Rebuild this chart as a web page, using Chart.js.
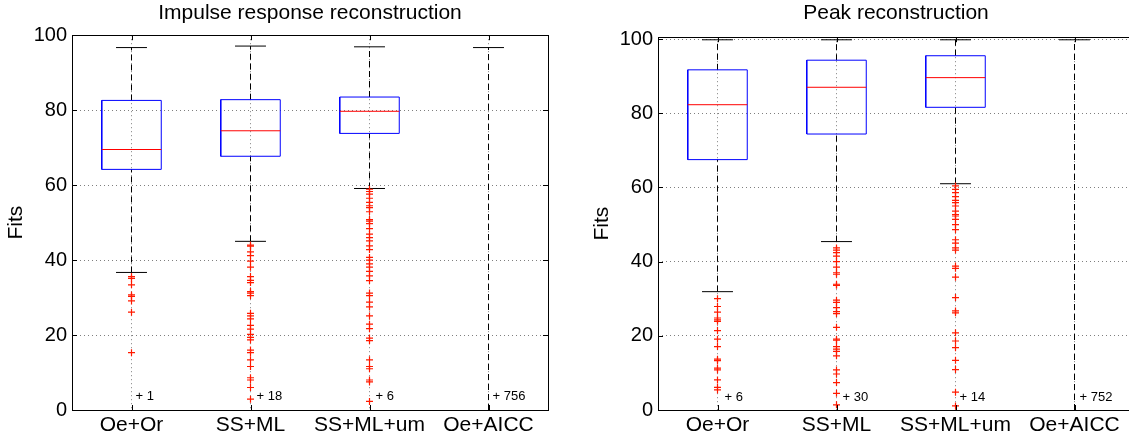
<!DOCTYPE html>
<html>
<head>
<meta charset="utf-8">
<script src="https://cdn.jsdelivr.net/npm/chart.js@4.4.1/dist/chart.umd.min.js"></script>
<style>
body { margin:0; background:#fff; overflow:hidden; width:1129px; height:443px; position:relative; }
#c1 { position:absolute; left:0; top:0; }
#c2 { position:absolute; left:560px; top:0; }
</style>
</head>
<body>
<canvas id="c1" width="560" height="443"></canvas>
<canvas id="c2" width="580" height="443"></canvas>
<script>
var categories = ['Oe+Or', 'SS+ML', 'SS+ML+um', 'Oe+AICC'];
var yTicks = [0, 20, 40, 60, 80, 100];

// Impulse response reconstruction
var impUpper  = [96.7, 97.1, 96.9, 96.7];
var impQ3     = [82.6, 82.8, 83.5, null];
var impMedian = [69.5, 74.5, 79.7, null];
var impQ1     = [64.2, 67.7, 73.8, null];
var impLower  = [36.7, 45.0, 59.1, null];
var impOutliers = [
    [35.6, 35.1, 33.4, 30.7, 30.3, 29.1, 26.1, 15.3],
    [44.0, 43.7, 42.2, 41.2, 39.7, 38.1, 35.6, 34.6, 34.0, 31.6, 31.2, 30.5, 25.8, 25.1, 24.3,
     22.6, 21.6, 20.2, 19.4, 18.7, 16.0, 15.3, 13.4, 11.6, 8.6, 8.0, 6.0, 2.9],
    [58.9, 58.3, 57.6, 56.5, 55.4, 54.5, 54.0, 52.9, 50.8, 50.4, 49.7, 48.4, 46.9, 46.0, 45.1,
     43.8, 42.8, 40.7, 40.0, 39.0, 38.1, 37.0, 35.8, 34.5, 31.2, 30.5, 28.8, 27.5, 25.1, 22.9,
     21.7, 19.2, 18.5, 13.4, 11.6, 11.0, 8.0, 7.5, 2.3],
    []
];
var impExtra = ['+ 1', '+ 18', '+ 6', '+ 756'];

// Peak reconstruction
var peakUpper  = [99.8, 99.8, 99.8, 99.8];
var peakQ3     = [91.7, 94.3, 95.5, null];
var peakMedian = [82.3, 87.0, 89.6, null];
var peakQ1     = [67.5, 74.4, 81.6, null];
var peakLower  = [31.9, 45.4, 61.0, null];
var peakOutliers = [
    [30.0, 27.9, 26.4, 24.8, 24.3, 23.9, 21.4, 19.1, 17.1, 13.7, 13.3, 11.3, 10.8, 8.1, 6.1, 5.4],
    [43.7, 43.1, 42.4, 41.5, 40.0, 38.5, 37.0, 36.6, 33.9, 33.6, 29.6, 29.0, 27.6, 26.5, 26.0,
     22.3, 19.1, 18.8, 17.1, 16.4, 15.8, 14.6, 10.8, 9.7, 7.4, 4.5, 1.4],
    [60.4, 59.5, 58.6, 57.5, 56.5, 55.9, 55.0, 53.6, 52.7, 52.3, 51.4, 50.0, 48.6, 45.9, 45.0,
     43.7, 43.1, 38.8, 38.2, 35.8, 30.3, 26.7, 26.2, 20.8, 18.6, 16.8, 13.4, 10.9, 4.8, 1.1],
    []
];
var peakExtra = ['+ 6', '+ 30', '+ 14', '+ 752'];

Chart.defaults.font.family = '"Liberation Sans", Arial, Helvetica, sans-serif';
Chart.defaults.color = '#000';

function segs(list) {
    var pts = [];
    list.forEach(function(s) {
        pts.push({x: s[0], y: s[1]}, {x: s[2], y: s[3]}, {x: s[2], y: null});
    });
    return pts;
}

// frame, inside ticks and the "+ n" notes
var framePlugin = {
    id: 'frame',
    afterDatasetsDraw: function(chart, args, opts) {
        var ctx = chart.ctx, a = chart.chartArea;
        var xs = chart.scales.x, ys = chart.scales.y;
        ctx.save();
        ctx.strokeStyle = '#000';
        ctx.lineWidth = 1;
        ctx.beginPath();
        yTicks.forEach(function(v) {
            var y = Math.round(ys.getPixelForValue(v)) + 0.5;
            ctx.moveTo(a.left, y); ctx.lineTo(a.left + 5, y);
            ctx.moveTo(a.right, y); ctx.lineTo(a.right - 5, y);
        });
        categories.forEach(function(c, i) {
            var x = Math.round(xs.getPixelForValue(i + 1)) + 0.5;
            ctx.moveTo(x, a.bottom); ctx.lineTo(x, a.bottom - 5);
            ctx.moveTo(x, a.top); ctx.lineTo(x, a.top + 5);
        });
        ctx.stroke();
        ctx.strokeRect(Math.round(a.left) + 0.5, Math.round(a.top) + 0.5,
            Math.round(a.right - a.left), Math.round(a.bottom - a.top));
        ctx.fillStyle = '#000';
        ctx.font = '13px "Liberation Sans", Arial, sans-serif';
        ctx.textBaseline = 'middle';
        opts.extra.forEach(function(t, i) {
            ctx.fillText(t, xs.getPixelForValue(i + 1) + opts.dx[i], ys.getPixelForValue(3.5));
        });
        ctx.restore();
    }
};

function makeBoxChart(id, title, upper, q3, med, q1, lower, outliers, extra, dx, yMax, axisW, fitsPad, titleBottom, padRight) {
    var whiskers = [], caps = [], boxes = [], medians = [], points = [];
    for (var i = 0; i < categories.length; i++) {
        var x = i + 1;
        whiskers.push([x, q3[i] !== null ? q3[i] : 0, x, upper[i]]);
        caps.push([x - 0.13, upper[i], x + 0.13, upper[i]]);
        if (q1[i] !== null) {
            whiskers.push([x, lower[i], x, q1[i]]);
            caps.push([x - 0.13, lower[i], x + 0.13, lower[i]]);
            boxes.push([x - 0.25, q1[i], x + 0.25, q1[i]], [x + 0.25, q1[i], x + 0.25, q3[i]],
                       [x + 0.25, q3[i], x - 0.25, q3[i]], [x - 0.25, q3[i], x - 0.25, q1[i]]);
            medians.push([x - 0.25, med[i], x + 0.25, med[i]]);
        }
        outliers[i].forEach(function(v) { points.push({x: x, y: v}); });
    }

    var lineSet = function(data, color, dash) {
        return {
            data: segs(data), showLine: true, borderColor: color, borderWidth: 1,
            borderDash: dash || [], pointRadius: 0, spanGaps: false, tension: 0
        };
    };

    return new Chart(document.getElementById(id), {
        type: 'scatter',
        data: {
            datasets: [
                {
                    data: points, pointStyle: 'cross', pointRadius: 3.5,
                    borderColor: '#ff1a00', backgroundColor: '#ff1a00', pointBorderWidth: 1.2
                },
                lineSet(medians, '#ff0000'),
                lineSet(boxes, '#0000ff'),
                lineSet(caps, '#000000'),
                lineSet(whiskers, '#000000', [6, 4])
            ]
        },
        options: {
            responsive: false,
            animation: false,
            layout: { padding: { left: 0, right: padRight, top: 0, bottom: 0 } },
            plugins: {
                legend: { display: false },
                tooltip: { enabled: false },
                title: {
                    display: true, text: title, fullSize: false,
                    font: { size: 21, weight: 'normal', lineHeight: 1.2 },
                    padding: { top: 1, bottom: titleBottom }
                },
                frame: { extra: extra, dx: dx }
            },
            scales: {
                x: {
                    type: 'linear', min: 0.5, max: 4.5,
                    afterBuildTicks: function(axis) {
                        axis.ticks = categories.map(function(c, i) { return {value: i + 1}; });
                    },
                    afterFit: function(axis) { axis.height = 33; },
                    ticks: {
                        font: { size: 21 }, padding: 3, maxRotation: 0, autoSkip: false,
                        callback: function(v) { return categories[v - 1]; }
                    },
                    grid: { color: 'rgba(0,0,0,0.5)', lineWidth: 1, drawTicks: false },
                    border: { display: false, dash: [1, 3] }
                },
                y: {
                    min: 0, max: yMax,
                    afterBuildTicks: function(axis) {
                        axis.ticks = yTicks.map(function(v) { return {value: v}; });
                    },
                    afterFit: function(axis) { axis.width = axisW; },
                    ticks: { font: { size: 20 }, padding: 5 },
                    title: { display: true, text: 'Fits', font: { size: 21 }, padding: { top: fitsPad, bottom: 0 } },
                    grid: { color: 'rgba(0,0,0,0.5)', lineWidth: 1, drawTicks: false },
                    border: { display: false, dash: [1, 3] }
                }
            }
        },
        plugins: [framePlugin]
    });
}

makeBoxChart('c1', 'Impulse response reconstruction', impUpper, impQ3, impMedian, impQ1, impLower,
    impOutliers, impExtra, [4, 6, 6, 4], 100, 72, 4, 9, 12);
makeBoxChart('c2', 'Peak reconstruction', peakUpper, peakQ3, peakMedian, peakQ1, peakLower,
    peakOutliers, peakExtra, [7, 6, 4, 5], 100.5, 98, 30, 11, 6);
</script>
</body>
</html>
